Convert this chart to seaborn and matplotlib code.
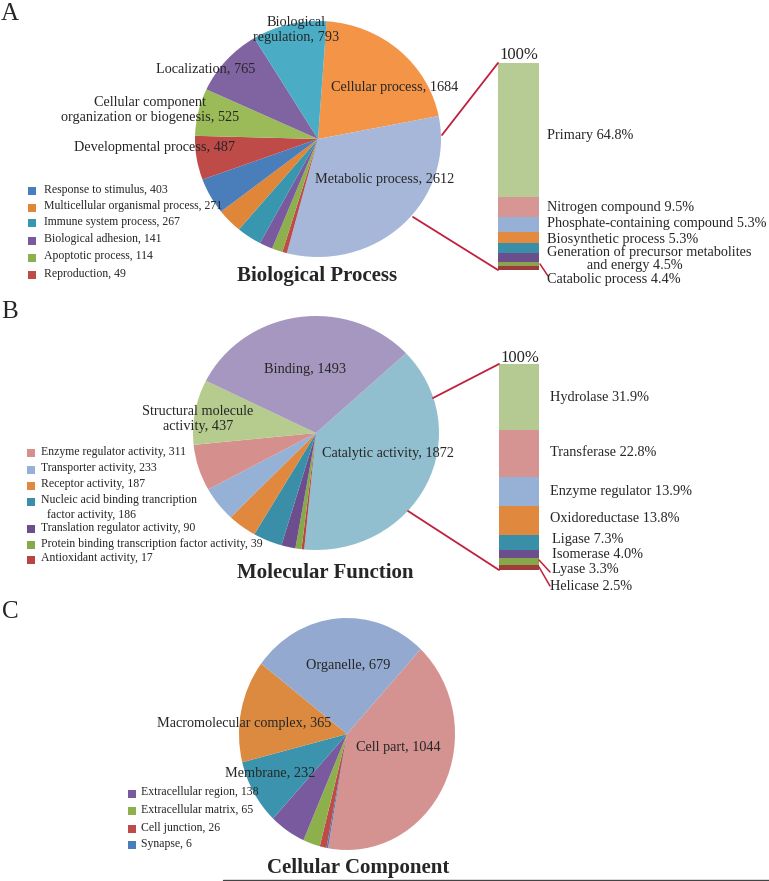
import numpy as np
import matplotlib
matplotlib.use("Agg")
import matplotlib.pyplot as plt
import seaborn as sns

sns.set_theme(style="white")
plt.rcParams["font.family"] = ["Liberation Serif", "DejaVu Serif"]

W, H = 769, 881

# A - Biological Process (pie slices, clockwise from top)
bp_names = ["Cellular process", "Metabolic process", "Reproduction", "Apoptotic process",
            "Biological adhesion", "Immune system process", "Multicellular organismal process",
            "Response to stimulus", "Developmental process",
            "Cellular component\norganization or biogenesis", "Localization",
            "Biological\nregulation"]
bp_counts = [1684, 2612, 49, 114, 141, 267, 271, 403, 487, 525, 765, 793]
bp_colors = ["#F39447", "#A7B7D9", "#BE4B48", "#8DB04D", "#7A5A9E", "#3896AF",
             "#DF8639", "#4A7EBB", "#BE4B48", "#9BBB59", "#8064A2", "#4BACC6"]

# metabolic process breakdown (bar, top to bottom)
met_names = ["Primary", "Nitrogen compound", "Phosphate-containing compound",
             "Biosynthetic process",
             "Generation of precursor metabolites\n           and energy",
             "Catabolic process", "", ""]
met_pct = [64.8, 9.5, 7.5, 5.3, 4.5, 4.4, 2.1, 1.9]
met_text = ["64.8%", "9.5%", "5.3%", "5.3%", "4.5%", "4.4%", "", ""]
met_colors = ["#B7CB95", "#D79593", "#97B0D6", "#E38A3F", "#3A8FA8", "#6B4E8C",
              "#8DA24E", "#9A3C3A"]

# B - Molecular Function
mf_names = ["Catalytic activity", "Antioxidant activity",
            "Protein binding transcription factor activity", "Translation regulator activity",
            "Nucleic acid binding trancription\n  factor activity", "Receptor activity",
            "Transporter activity", "Enzyme regulator activity",
            "Structural molecule\nactivity", "Binding"]
mf_counts = [1872, 17, 39, 90, 186, 187, 233, 311, 437, 1493]
mf_colors = ["#92BFCF", "#B84542", "#86AA4A", "#6C4E8F", "#3A8EA7", "#E0883D",
             "#95B1D6", "#D58F8D", "#B6CC8E", "#A597BF"]

# catalytic activity breakdown (bar, top to bottom)
cat_names = ["Hydrolase", "Transferase", "Enzyme regulator", "Oxidoreductase",
             "Ligase", "Isomerase", "Lyase", "Helicase"]
cat_pct = [31.9, 22.8, 13.9, 13.8, 7.3, 4.0, 3.3, 2.5]
cat_colors = ["#B5C993", "#D59491", "#97B0D5", "#E0883D", "#3A8FA8", "#6B4E8C",
              "#86A74A", "#A03C3A"]

# C - Cellular Component
cc_names = ["Cell part", "Synapse", "Cell junction", "Extracellular matrix",
            "Extracellular region", "Membrane", "Macromolecular complex", "Organelle"]
cc_counts = [1044, 6, 26, 65, 138, 232, 365, 679]
cc_colors = ["#D49391", "#4A7EBB", "#BE4B48", "#8DB04D", "#7A5A9E", "#3B93AE",
             "#DB8A3F", "#93A9CF"]

LINE_RED = "#C0203C"
LBL = 10.3
LEG = 8.5

fig = plt.figure(figsize=(W / 100, H / 100), dpi=100)


def box(x0, y0, x1, y1):
    return [x0 / W, 1 - y1 / H, (x1 - x0) / W, (y1 - y0) / H]


def draw_pie(cx, cy, rx, ry, counts, colors, start):
    ax = fig.add_axes(box(cx - rx, cy - ry, cx + rx, cy + ry))
    ax.pie(counts, colors=colors, startangle=start, counterclock=False, radius=1,
           wedgeprops=dict(linewidth=0))
    ax.set_xlim(-1, 1)
    ax.set_ylim(-1, 1)
    ax.set_aspect("auto")
    ax.axis("off")
    return ax


def stacked_bar(x0, y0, x1, y1, pct, colors):
    ax = fig.add_axes(box(x0, y0, x1, y1))
    tops = np.cumsum(pct[::-1])[::-1]
    for top, c in zip(tops, colors):
        sns.barplot(x=[0], y=[top], color=c, width=1, saturation=1, linewidth=0, ax=ax)
    ax.set_xlim(-0.5, 0.5)
    ax.set_ylim(0, tops[0])
    ax.axis("off")
    return ax


draw_pie(318, 139, 123, 118, bp_counts, bp_colors, 86)
draw_pie(316, 433, 123, 117, mf_counts, mf_colors, 43)
draw_pie(347, 734, 108, 116, cc_counts, cc_colors, 47)

stacked_bar(498, 63, 539, 270, met_pct, met_colors)
stacked_bar(499, 364, 539, 570, cat_pct, cat_colors)

ov = fig.add_axes([0, 0, 1, 1], zorder=5)
ov.set_xlim(0, W)
ov.set_ylim(H, 0)
ov.axis("off")


def pie_labels(names, counts, which, positions):
    for i, (x, y) in zip(which, positions):
        ov.text(x, y, f"{names[i]}, {counts[i]}", ha="center", va="center",
                fontsize=LBL, multialignment="center")


def legend(names, counts, colors, which, xs, xt, ys):
    for i, y in zip(which, ys):
        ov.scatter([xs], [y], marker="s", s=34, color=colors[i], linewidths=0)
        ov.text(xt, y - 7.5, f"{names[i]}, {counts[i]}", ha="left", va="top",
                fontsize=LEG, linespacing=1.25)


# panel A
pie_labels(bp_names, bp_counts, [0, 1, 8, 9, 10, 11],
           [(395, 88), (385, 179), (154, 148), (150, 110), (206, 69), (296, 30)])
legend(bp_names, bp_counts, bp_colors, [7, 6, 5, 4, 3, 2], 32, 44,
       [191, 207.5, 223, 240.5, 257.5, 275])
ov.text(519, 55, "100%", ha="center", va="center", fontsize=12)
for name, txt, y in zip(met_names[:6], met_text[:6], [135, 208, 224, 239, 259, 279]):
    ov.text(547, y, f"{name} {txt}", ha="left", va="center", fontsize=LBL,
            multialignment="left", linespacing=1.0)
ov.plot([442, 498], [135, 63], color=LINE_RED, lw=1.3)
ov.plot([413, 498], [217, 270], color=LINE_RED, lw=1.3)
ov.plot([540, 548], [264, 276], color=LINE_RED, lw=1.1)
ov.text(317, 276, "Biological Process", ha="center", va="center", fontsize=15,
        fontweight="bold")

# panel B
pie_labels(mf_names, mf_counts, [9, 8, 0], [(305, 370), (198, 419), (388, 453)])
legend(mf_names, mf_counts, mf_colors, [7, 6, 5, 4, 3, 2, 1], 31, 41,
       [453, 470, 486, 502, 529, 545, 560])
ov.text(520, 358, "100%", ha="center", va="center", fontsize=12)
for name, p, x, y in zip(cat_names, cat_pct,
                         [550, 550, 550, 550, 552, 552, 552, 550],
                         [398, 453, 492, 519, 540, 555, 570, 586]):
    ov.text(x, y, f"{name} {p:.1f}%", ha="left", va="center", fontsize=LBL)
ov.plot([433, 499], [398, 364], color=LINE_RED, lw=1.3)
ov.plot([408, 499], [511, 570], color=LINE_RED, lw=1.3)
ov.plot([539, 550], [560, 572], color=LINE_RED, lw=1.1)
ov.plot([539, 550], [567, 586], color=LINE_RED, lw=1.1)
ov.text(325, 573, "Molecular Function", ha="center", va="center", fontsize=15,
        fontweight="bold")

# panel C
pie_labels(cc_names, cc_counts, [7, 6, 0, 5],
           [(348, 666), (244, 723), (398, 748), (270, 773)])
legend(cc_names, cc_counts, cc_colors, [4, 3, 2, 1], 132, 141, [794, 811, 829, 845])
ov.text(358, 868, "Cellular Component", ha="center", va="center", fontsize=15,
        fontweight="bold")
ov.plot([223, 769], [880, 880], color="#444444", lw=1)

for letter, x, y in [("A", 10, 14), ("B", 10, 312), ("C", 10, 612)]:
    ov.text(x, y, letter, ha="center", va="center", fontsize=18)

fig.savefig("out.png", dpi=100)
